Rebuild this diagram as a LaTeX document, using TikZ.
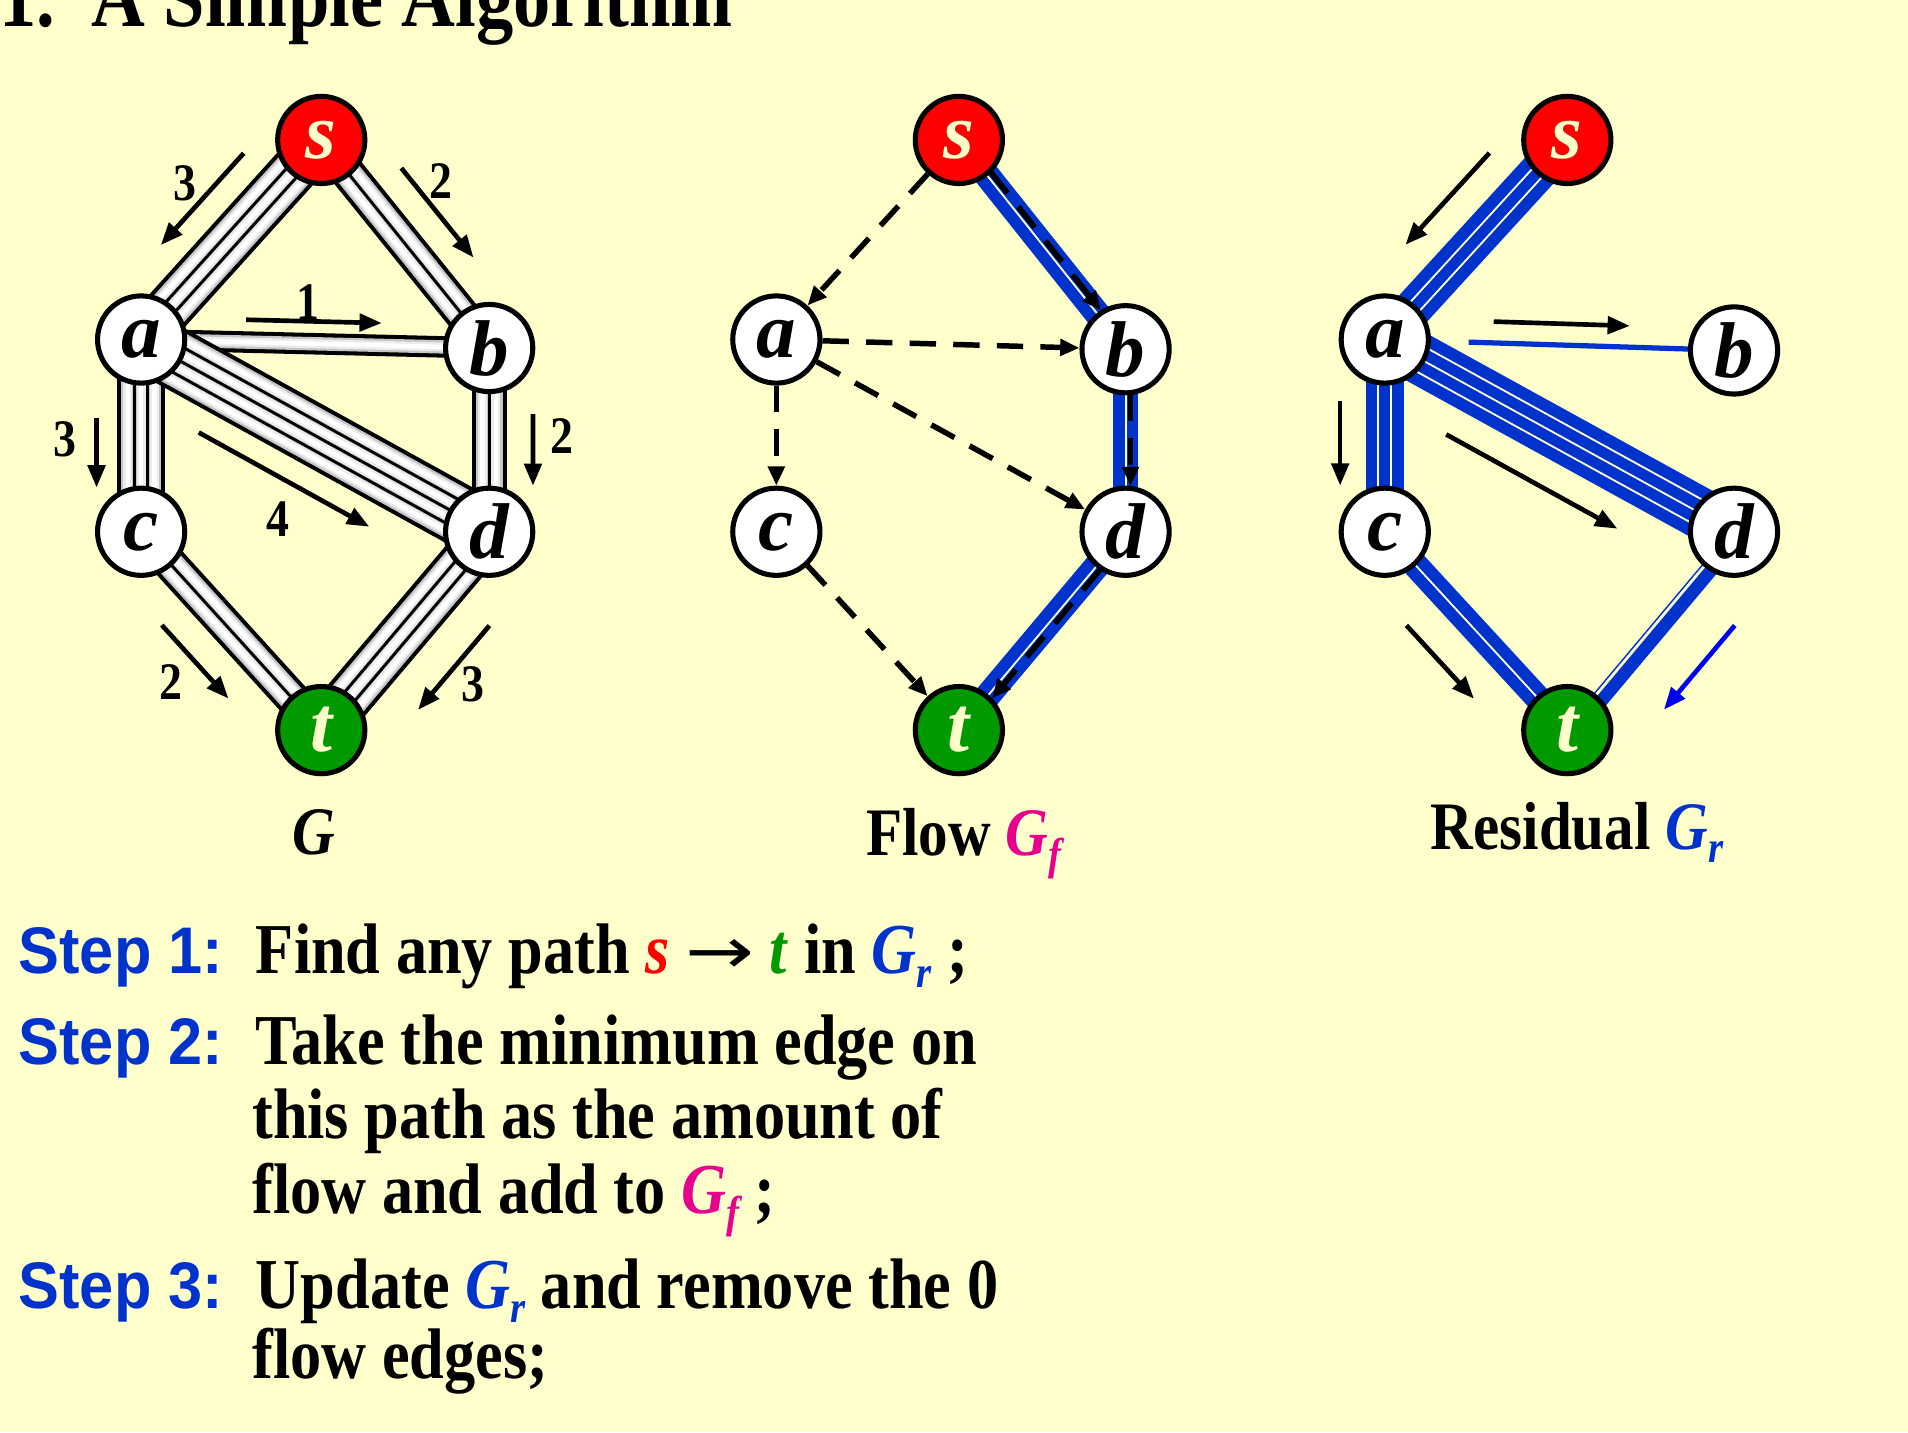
\documentclass[tikz,border=0pt]{standalone}
\usepackage{fontspec}
\setmainfont{Liberation Serif}
\newfontfamily\condserif[FakeStretch=0.87]{Liberation Serif}
\newfontfamily\condsans[FakeStretch=0.93]{Liberation Sans}
\newfontfamily\arrowfont{DejaVu Sans}
\usetikzlibrary{arrows.meta,calc,positioning}
\definecolor{slideyellow}{RGB}{255,255,204}
\definecolor{sourcered}{RGB}{255,0,0}
\definecolor{sinkgreen}{RGB}{0,153,0}
\definecolor{flowblue}{RGB}{0,51,204}
\definecolor{flowpink}{RGB}{230,0,140}
\definecolor{arrowblue}{RGB}{0,0,240}

\pgfdeclarelayer{background}
\pgfdeclarelayer{pipes}
\pgfsetlayers{background,pipes,main}

\tikzset{
  vertex/.style={circle, draw, line width=2.5pt, minimum size=43pt, inner sep=0pt,
    fill=white, font=\bfseries\itshape\fontsize{39}{39}\selectfont},
  source/.style={vertex, fill=sourcered, text=slideyellow},
  sink/.style={vertex, fill=sinkgreen, text=slideyellow},
  capflow/.style={line width=2.3pt, -{Triangle[length=11pt,width=8.5pt]}},
  flowdash/.style={line width=2.7pt, dash pattern=on 13pt off 8.5pt,
    -{Triangle[length=9.5pt,width=8pt]}},
  capnum/.style={inner sep=0pt, font=\condserif\bfseries\fontsize{26}{26}\selectfont},
  caption/.style={inner sep=0pt, anchor=base, font=\condserif\bfseries\fontsize{33.5}{33.5}\selectfont},
  steplabel/.style={inner sep=0pt, anchor=base west, text=flowblue,
    font=\condsans\bfseries\fontsize{32.5}{32.5}\selectfont},
  stepline/.style={inner sep=0pt, anchor=base west, font=\condserif\bfseries\fontsize{35.3}{36}\selectfont}
}

% lowered index of G_f, G_r
\newcommand{\sub}[1]{\raisebox{-0.2em}{\fontsize{22}{22}\selectfont\itshape #1}}
\newcommand{\arrowsym}{{\arrowfont\mdseries\scalebox{1.15}[0.9]{→}}}

% gray capacity pipe: #3 strands between nodes #1 and #2
\newcommand{\graypipe}[3]{%
  \draw[line width=#3*6.6pt+4pt] (#1.center) -- (#2.center);
  \draw[line width=#3*6.6pt, gray!45] (#1.center) -- (#2.center);
  \foreach \j in {1,...,#3}{
    \draw[line width=4.4pt, gray!15] ($(#1.center)!{(\j-(#3+1)/2)*6.6pt}!90:(#2.center)$) -- ($(#2.center)!{(\j-(#3+1)/2)*6.6pt}!-90:(#1.center)$);
    \draw[line width=2.2pt, white] ($(#1.center)!{(\j-(#3+1)/2)*6.6pt}!90:(#2.center)$) -- ($(#2.center)!{(\j-(#3+1)/2)*6.6pt}!-90:(#1.center)$);
  }
  \ifnum#3>1
  \foreach \j in {2,...,#3}{
    \draw[line width=1.4pt] ($(#1.center)!{(\j-1-#3/2)*6.6pt}!90:(#2.center)$) -- ($(#2.center)!{(\j-1-#3/2)*6.6pt}!-90:(#1.center)$);
  }
  \fi
}

% blue flow pipe: #3 strands
\newcommand{\bluepipe}[3]{%
  \draw[line width=#3*6.3pt, flowblue] (#1.center) -- (#2.center);
  \ifnum#3>1
  \foreach \j in {2,...,#3}{
    \draw[line width=0.9pt, slideyellow] ($(#1.center)!{(\j-1-#3/2)*6.3pt}!90:(#2.center)$) -- ($(#2.center)!{(\j-1-#3/2)*6.3pt}!-90:(#1.center)$);
  }
  \fi
}

% arrow beside edge #2--#3: side #4, distance #5, from #6 to #7 of the way
\newcommand{\sidearrow}[7][]{%
  \draw[capflow,#1] ($(#2.center)!#6!(#3.center)!#5!#4:(#3.center)$) -- ($(#2.center)!#7!(#3.center)!#5!#4:(#3.center)$);
}
% capacity number beside edge #2--#3
\newcommand{\capnum}[7]{%
  \node[capnum] (#1) at ($(#2.center)!#6!(#3.center)!#5!#4:(#3.center)$) {#7};
}
% dashed flow arrow on top of a blue pipe
\newcommand{\pathdash}[2]{%
  \draw[flowdash, shorten <=22.5pt, shorten >=22.5pt] ($(#1.center)!2.4pt!90:(#2.center)$) -- ($(#2.center)!2.4pt!-90:(#1.center)$);
}

\begin{document}
\begin{tikzpicture}[x=0.6pt, y=-0.6pt]
  \path[use as bounding box, clip] (0,0) rectangle (1568,1177);
  \begin{pgfonlayer}{background}
    \fill[slideyellow] (0,0) rectangle (1568,1177);
  \end{pgfonlayer}

  % title
  \node[anchor=base west, inner sep=0pt, font=\condserif\bfseries\fontsize{42.2}{44}\selectfont] (title) at (-1,22) {1.\hspace{18pt}A Simple Algorithm};

  % graph G
  \node[source] (gs) at (264,115) {s};
  \node[vertex] (ga) at (116,279) {a};
  \node[vertex] (gb) at (402,286) {b};
  \node[vertex] (gc) at (116,437) {c};
  \node[vertex] (gd) at (402,437) {d};
  \node[sink] (gt) at (264,600) {t};
  \node[caption] (gcap) at (258,702) {\textit{G}};

  % flow Gf
  \node[source] (fs) at (788,115) {s};
  \node[vertex] (fa) at (638,279) {a};
  \node[vertex] (fb) at (925,287) {b};
  \node[vertex] (fc) at (638,437) {c};
  \node[vertex] (fd) at (925,437) {d};
  \node[sink] (ft) at (788,600) {t};
  \node[caption] (fcap) at (792,703) {Flow \textcolor{flowpink}{\textit{G}\sub{f}}};

  % residual Gr
  \node[source] (rs) at (1288,115) {s};
  \node[vertex] (ra) at (1138,279) {a};
  \node[vertex] (rb) at (1425,288) {b};
  \node[vertex] (rc) at (1138,437) {c};
  \node[vertex] (rd) at (1425,437) {d};
  \node[sink] (rt) at (1288,600) {t};
  \node[caption] (rcap) at (1296,698) {Residual \textcolor{flowblue}{\textit{G}\sub{r}}};

  \begin{pgfonlayer}{pipes}
    \graypipe{gs}{ga}{3}
    \graypipe{gs}{gb}{2}
    \graypipe{ga}{gb}{1}
    \graypipe{ga}{gc}{3}
    \graypipe{ga}{gd}{4}
    \graypipe{gb}{gd}{2}
    \graypipe{gc}{gt}{2}
    \graypipe{gd}{gt}{3}

    \bluepipe{fs}{fb}{2}
    \bluepipe{fb}{fd}{2}
    \bluepipe{fd}{ft}{2}

    \bluepipe{rs}{ra}{3}
    \bluepipe{ra}{rc}{3}
    \bluepipe{ra}{rd}{4}
    \bluepipe{rc}{rt}{2}
    \draw[flowblue, line width=2.6pt] ($(ra.center)!0.24!(rb.center)$) -- (rb.center);
    \draw[flowblue, line width=6.3pt] ($(rd.center)!3.6pt!90:(rt.center)$) -- ($(rt.center)!3.6pt!-90:(rd.center)$);
    \draw[flowblue, line width=0.7pt] ($(rd.center)!-1.4pt!90:(rt.center)$) -- ($(rt.center)!-1.4pt!-90:(rd.center)$);
  \end{pgfonlayer}

  % capacities in G
  \sidearrow{gs}{ga}{-90}{24pt}{0.23}{0.69}
  \sidearrow{gs}{gb}{90}{22pt}{0.27}{0.70}
  \sidearrow{ga}{gb}{90}{11pt}{0.30}{0.69}
  \sidearrow{ga}{gc}{-90}{22pt}{0.41}{0.77}
  \sidearrow{gb}{gd}{90}{21.6pt}{0.36}{0.75}
  \sidearrow{ga}{gd}{-90}{26.4pt}{0.24}{0.73}
  \sidearrow{gc}{gt}{-90}{23.4pt}{0.31}{0.68}
  \sidearrow{gd}{gt}{90}{30pt}{0.275}{0.70}
  \capnum{csa}{gs}{ga}{-90}{35.4pt}{0.46}{3}
  \capnum{csb}{gs}{gb}{90}{33.4pt}{0.40}{2}
  \capnum{cab}{ga}{gb}{90}{20.5pt}{0.475}{1}
  \capnum{cac}{ga}{gc}{-90}{37.8pt}{0.52}{3}
  \capnum{cbd}{gb}{gd}{90}{36pt}{0.48}{2}
  \capnum{cad}{ga}{gd}{-90}{45pt}{0.52}{4}
  \capnum{cct}{gc}{gt}{-90}{39pt}{0.49}{2}
  \capnum{cdt}{gd}{gt}{90}{42.4pt}{0.49}{3}

  % flow edges
  \draw[flowdash] (fs) -- (fa);
  \draw[flowdash] (fa) -- (fb);
  \draw[flowdash] (fa) -- (fc);
  \draw[flowdash] (fa) -- (fd);
  \draw[flowdash] (fc) -- (ft);
  \pathdash{fs}{fb}
  \pathdash{fb}{fd}
  \pathdash{fd}{ft}

  % residual directions
  \sidearrow{rs}{ra}{-90}{24pt}{0.23}{0.69}
  \sidearrow{ra}{rb}{90}{10.5pt}{0.31}{0.70}
  \sidearrow{ra}{rc}{-90}{22pt}{0.32}{0.76}
  \sidearrow{ra}{rd}{-90}{26.4pt}{0.25}{0.74}
  \sidearrow{rc}{rt}{-90}{23.4pt}{0.31}{0.68}
  \sidearrow[arrowblue]{rd}{rt}{90}{30pt}{0.275}{0.70}

  % steps
  \node[steplabel] (step1) at (15,800) {Step 1:};
  \node[stepline] (line1) at (210,800) {Find any path \textcolor{sourcered}{\textit{s}} \arrowsym{} \textcolor{sinkgreen}{\textit{t}} in \textcolor{flowblue}{\textit{G}\sub{r}} ;};
  \node[steplabel] (step2) at (15,875) {Step 2:};
  \node[stepline] (line2) at (210,875) {Take the minimum edge on};
  \node[stepline] (line3) at (207,936) {this path as the amount of};
  \node[stepline] (line4) at (207,997) {flow and add to \textcolor{flowpink}{\textit{G}\sub{f}} ;};
  \node[steplabel] (step3) at (15,1075) {Step 3:};
  \node[stepline] (line5) at (210,1075) {Update \textcolor{flowblue}{\textit{G}\sub{r}} and remove the 0};
  \node[stepline] (line6) at (207,1133) {flow edges;};
\end{tikzpicture}
\end{document}
